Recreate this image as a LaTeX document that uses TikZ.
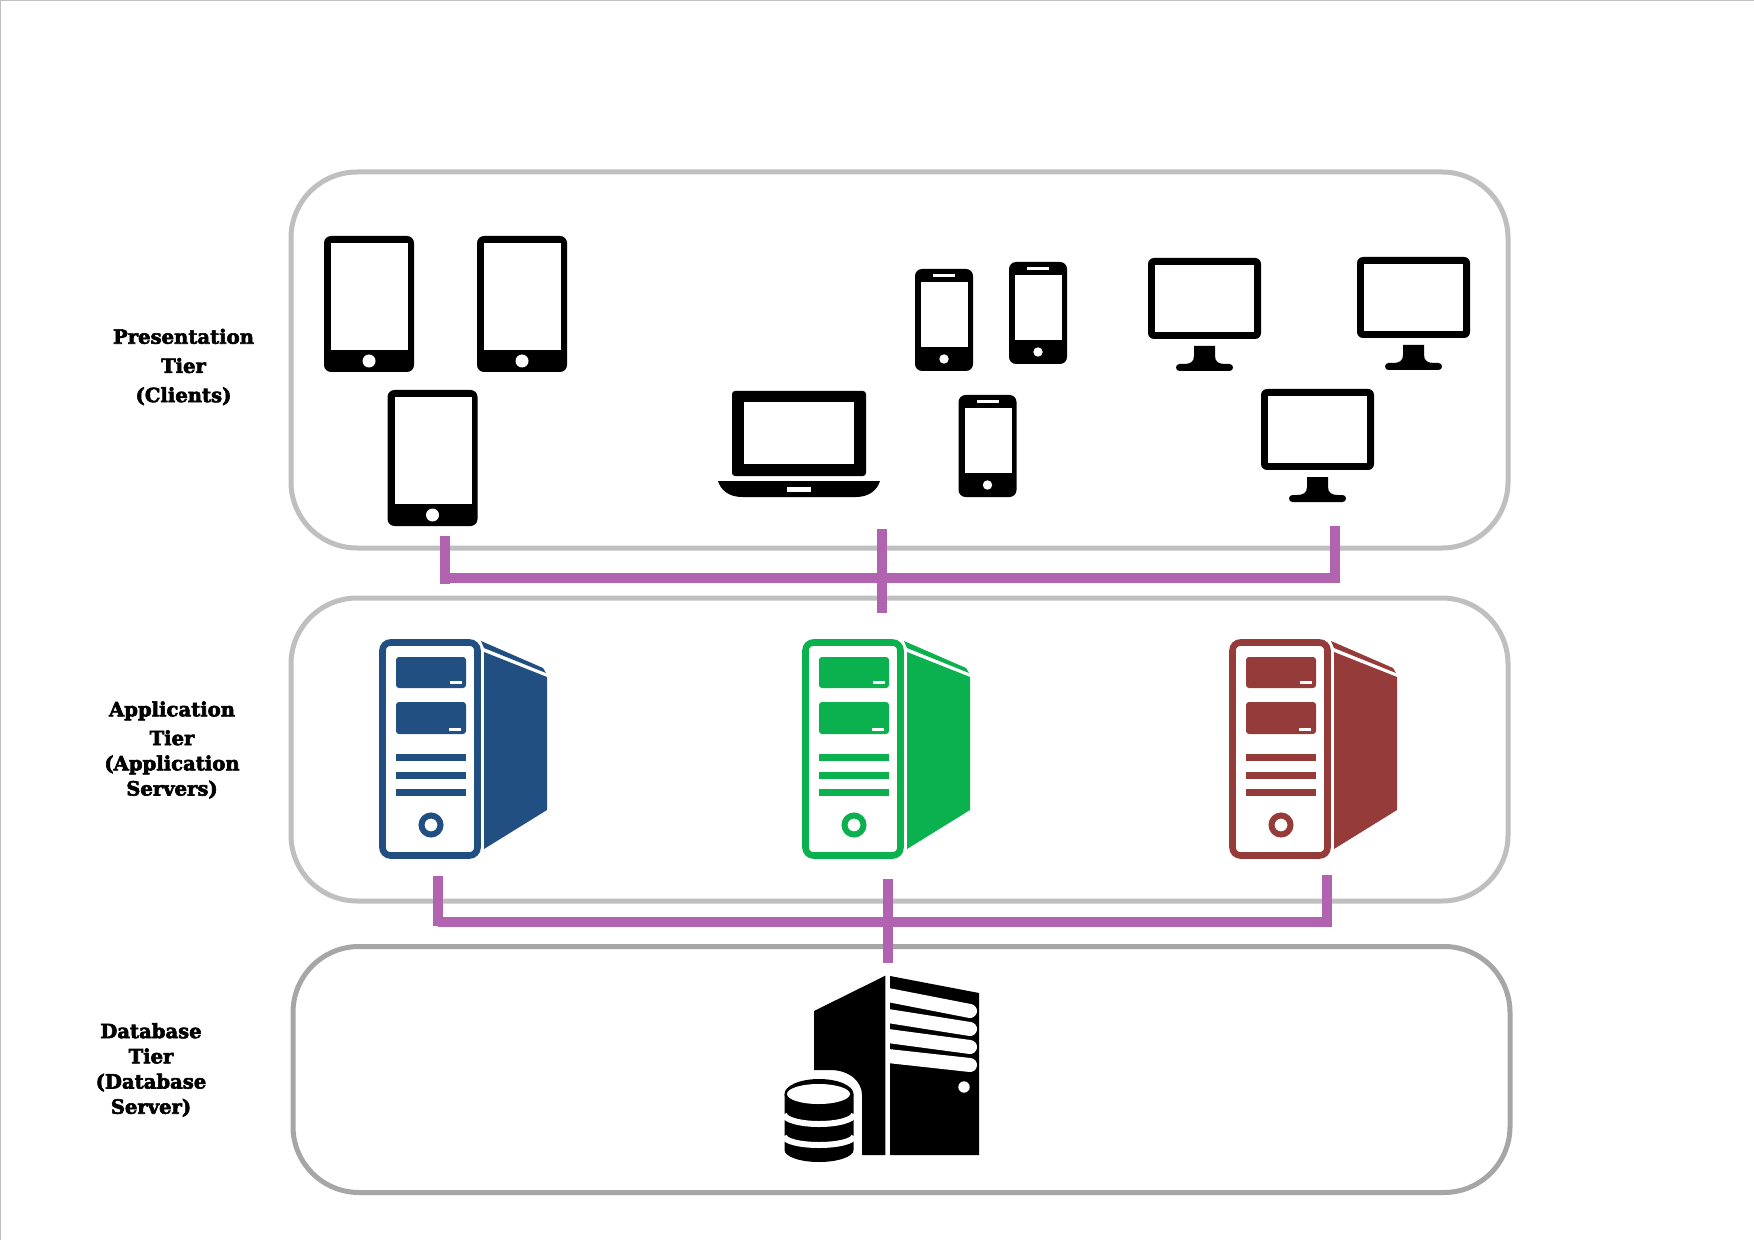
\documentclass[tikz,border=0pt]{standalone}
\usepackage{fontspec}
\newfontfamily\labfont[BoldFeatures={FakeBold=3}]{DejaVu Serif}
\definecolor{panelgray}{HTML}{BFBFBF}
\definecolor{paneldark}{HTML}{A6A6A6}
\definecolor{wire}{HTML}{B263AF}
\definecolor{srvblue}{HTML}{224F82}
\definecolor{srvgreen}{HTML}{0CB14F}
\definecolor{srvred}{HTML}{953B39}
\tikzset{
  panel/.style={draw=panelgray,line width=2.5pt,rounded corners=33pt,inner sep=0pt,outer sep=0pt},
  wireline/.style={draw=wire,line width=5pt},
  tierlabel/.style={font=\labfont\bfseries\fontsize{9.8}{13}\selectfont,align=center,inner sep=0pt,text=black},
  tablet/.pic={
    \fill[black,rounded corners=3.5pt] (0,0) rectangle (90,136);
    \fill[white] (7,7) rectangle (84,114);
    \fill[white] (45,125) circle[radius=6.5];
  },
  phone/.pic={
    \fill[black,rounded corners=3.5pt] (0,0) rectangle (58,102);
    \fill[white] (6,13) rectangle (53,78);
    \fill[white] (18,5) rectangle (40,8.5);
    \fill[white] (29,90) circle[radius=4.7];
  },
  monitor/.pic={
    \fill[black,rounded corners=3pt] (0,0) rectangle (113,81);
    \fill[white] (7,7) rectangle (106,74);
    \fill[black] (46,88) -- (46,98) .. controls (46,104) and (42,106) .. (36,106) -- (31,106)
      -- (31,113) -- (82,113) -- (82,106) -- (77,106) .. controls (71,106) and (67,104) .. (67,98) -- (67,88) -- cycle;
    \draw[black,line width=3.5pt,line cap=round] (31.5,109.5) -- (81.5,109.5);
  },
  laptop/.pic={
    \fill[black,rounded corners=1.5pt] (14,0) rectangle (148,85);
    \fill[white] (26,11) rectangle (136,73);
    \fill[black] (0,90) -- (162,90) .. controls (159,100) and (150,106) .. (138,106) -- (24,106) .. controls (12,106) and (3,100) .. (0,90) -- cycle;
    \fill[white] (69,96) rectangle (93,101);
  },
  server/.pic={
    \draw[#1,line width=3.3pt,rounded corners=4pt] (3.5,3.5) rectangle (98.5,216.5);
    \fill[#1,rounded corners=1.5pt] (17,18) rectangle (87,49);
    \fill[#1,rounded corners=1.5pt] (17,63) rectangle (87,95);
    \fill[white] (71,42) rectangle (83,45);
    \fill[white] (70,89) rectangle (82,92);
    \fill[#1] (17,115) rectangle (87,122);
    \fill[#1] (17,133) rectangle (87,140);
    \fill[#1] (17,150) rectangle (87,157);
    \draw[#1,line width=3pt] (52,186) circle[radius=9.5];
    \fill[#1] (105,13) -- (168,38) -- (168,171) -- (105,210) -- cycle;
    \fill[#1] (102,2) -- (164,29) -- (167,34) -- (105,9) -- cycle;
  }
}
\begin{document}
\begin{tikzpicture}[x=0.5pt,y=-0.5pt]
\useasboundingbox (0,0) rectangle (1754,1240);
\fill[white] (0,0) rectangle (1754,1240);
\draw[panelgray,line width=1pt] (0,1240) -- (0,0) -- (1754,0);

% panels
\node[panel,minimum width=608.5pt,minimum height=188pt] (presentation) at (899.5,360) {};
\node[panel,minimum width=608.5pt,minimum height=151.5pt] (application) at (899.5,749.5) {};
\node[panel,draw=paneldark,minimum width=608.5pt,minimum height=123pt] (database) at (901.5,1069.5) {};

% labels
\node[tierlabel] (lab1) at (183.5,367) {Presentation\\[1.6pt]Tier\\[1.6pt](Clients)};
\node[tierlabel] (lab2) at (172,750) {Application\\[1.4pt]Tier\\[-0.4pt](Application\\[-0.4pt]Servers)};
\node[tierlabel] (lab3) at (151,1070) {Database\\[-0.4pt]Tier\\[-0.4pt](Database\\[-0.4pt]Server)};

% tablets
\pic (tab1) at (324,236) {tablet};
\pic (tab2) at (477,236) {tablet};
\pic (tab3) at (387.5,390) {tablet};
% laptop
\pic (lap) at (718,391) {laptop};
% phones
\pic (ph1) at (915,269) {phone};
\pic (ph2) at (1009,262) {phone};
\pic (ph3) at (958.5,395) {phone};
% monitors
\pic (mon1) at (1148,258) {monitor};
\pic (mon2) at (1357,257) {monitor};
\pic (mon3) at (1261,389) {monitor};
% servers
\pic (srv1) at (379,639) {server=srvblue};
\pic (srv2) at (802,639) {server=srvgreen};
\pic (srv3) at (1229,639) {server=srvred};

% database server
\fill[black] (890,976) -- (979,993) -- (979,1155) -- (890,1155) -- cycle;
\begin{scope}[white,line width=7pt,line cap=round]
  \draw (888,995) -- (970,1011);
  \draw (888,1016) -- (970,1029);
  \draw (888,1036) -- (970,1047);
  \draw (888,1056) -- (970,1065);
\end{scope}
\fill[white] (964,1087) circle[radius=5.7];
\fill[black] (885.3,975.7) -- (814,1011) -- (814,1070) -- (830,1070)
  .. controls (850,1070) and (862,1082) .. (862,1095) -- (862,1155) -- (885.3,1155) -- cycle;
\fill[black] (784.5,1094) -- (853.5,1094) -- (853.5,1150) arc[start angle=0,end angle=180,x radius=34.5,y radius=12] -- cycle;
\fill[black] (819,1094) ellipse[x radius=34.5,y radius=15];
\fill[white] (818.5,1094) ellipse[x radius=31.5,y radius=10];
\begin{scope}[white,line width=3pt]
  \draw (784,1114) arc[start angle=180,end angle=0,x radius=35,y radius=10];
  \draw (784,1136) arc[start angle=180,end angle=0,x radius=35,y radius=9];
\end{scope}

% connectors, upper bus
\coordinate (u1a) at (445,536);
\coordinate (u1b) at (445,584);
\coordinate (u2a) at (882,529);
\coordinate (u2b) at (882,613);
\coordinate (u3a) at (1335,526);
\coordinate (u3b) at (1335,583);
\coordinate (ul) at (445,578);
\coordinate (ur) at (1338,578);
\draw[wireline] (u1a) -- (u1b);
\draw[wireline] (u2a) -- (u2b);
\draw[wireline] (u3a) -- (u3b);
\draw[wireline] (ul) -- (ur);
% connectors, lower bus
\coordinate (l1a) at (438,876);
\coordinate (l1b) at (438,926);
\coordinate (l2a) at (888,879);
\coordinate (l2b) at (888,963);
\coordinate (l3a) at (1327,875);
\coordinate (l3b) at (1327,926);
\coordinate (ll) at (438,922);
\coordinate (lr) at (1332,922);
\draw[wireline] (l1a) -- (l1b);
\draw[wireline] (l2a) -- (l2b);
\draw[wireline] (l3a) -- (l3b);
\draw[wireline] (ll) -- (lr);
\end{tikzpicture}
\end{document}
